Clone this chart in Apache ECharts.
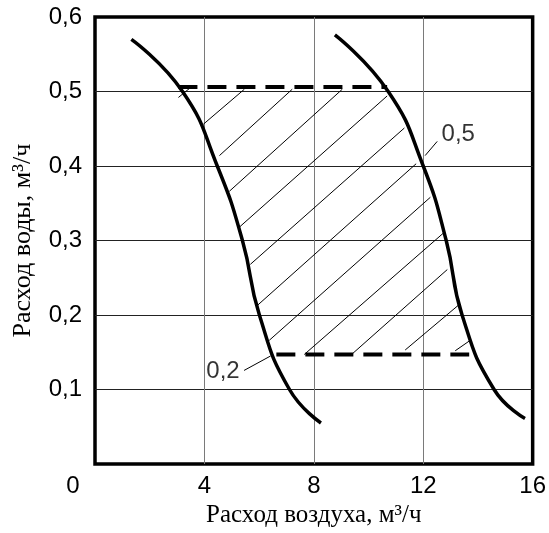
<!DOCTYPE html>
<html>
<head>
<meta charset="utf-8">
<script src="https://cdn.jsdelivr.net/npm/echarts@6/dist/echarts.min.js"></script>
<style>
html, body { margin: 0; padding: 0; background: #fff; }
#chart { width: 549px; height: 533px; }
</style>
</head>
<body>
<div id="chart"></div>
<script>
// x - расход воздуха, м3/ч ; y - расход воды, м3/ч
var curve02 = [[1.33, 0.57], [3.2, 0.5], [4.47, 0.4], [5.39, 0.3], [6.01, 0.2], [7.11, 0.1], [8.26, 0.055]];
var curve05 = [[8.77, 0.576], [10.72, 0.5], [12.0, 0.4], [12.84, 0.3], [13.42, 0.2], [14.59, 0.1], [15.72, 0.061]];

var topLimit = [[3.05, 0.506], [10.68, 0.506]];
var bottomLimit = [[6.63, 0.147], [13.68, 0.147]];

// штриховка области
var hatch = [
    [[3.05, 0.492], [3.45, 0.504]],
    [[3.96, 0.456], [5.46, 0.503]],
    [[4.55, 0.414], [7.21, 0.503]],
    [[4.91, 0.366], [9.04, 0.503]],
    [[5.28, 0.318], [10.68, 0.494]],
    [[5.68, 0.268], [11.31, 0.451]],
    [[5.94, 0.213], [11.74, 0.403]],
    [[6.37, 0.166], [12.26, 0.358]],
    [[7.65, 0.147], [12.77, 0.311]],
    [[9.41, 0.148], [12.88, 0.261]],
    [[11.34, 0.153], [13.28, 0.213]],
    [[13.17, 0.152], [13.68, 0.165]]
];

var leaders = [
    [[12.07, 0.414], [12.51, 0.433]],
    [[5.45, 0.1256], [6.42, 0.145]]
];
var curveNames = ['0,5', '0,2'];
var curveNamePos = [[13.28, 0.442], [4.68, 0.1247]];

var xTicks = [0, 4, 8, 12, 16];
var xTickLabels = ['0', '4', '8', '12', '16'];
var yTicks = [0, 0.1, 0.2, 0.3, 0.4, 0.5, 0.6];
var yTickLabels = ['', '0,1', '0,2', '0,3', '0,4', '0,5', '0,6'];

var tickFont = 'Liberation Sans, Arial, sans-serif';
var nameFont = 'Liberation Serif, Times New Roman, serif';

var myChart = echarts.init(document.getElementById('chart'));

var option = {
    animation: false,
    grid: {
        left: 95, right: 12, top: 17, bottom: 64,
        show: true,
        borderColor: '#000',
        borderWidth: 3.5
    },
    xAxis: {
        type: 'value',
        min: 0, max: 16, interval: 4,
        name: 'Расход воздуха, м³/ч',
        nameLocation: 'middle',
        nameGap: 39,
        nameTextStyle: { fontFamily: nameFont, fontSize: 25, color: '#000' },
        axisLine: { show: false },
        axisTick: { show: false },
        axisLabel: {
            margin: 10,
            fontFamily: tickFont, fontSize: 24, color: '#000',
            formatter: function (v) {
                var s = xTickLabels[xTicks.indexOf(v)];
                return v === 0 ? '{z|' + s + '}' : s;
            },
            rich: {
                z: { fontFamily: tickFont, fontSize: 24, color: '#000', padding: [0, 44, 0, 0] }
            }
        },
        splitLine: { show: true, showMinLine: false, showMaxLine: false, lineStyle: { color: '#7a7a7a', width: 1 } }
    },
    yAxis: {
        type: 'value',
        min: 0, max: 0.6, interval: 0.1,
        name: 'Расход воды, м³/ч',
        nameLocation: 'middle',
        nameGap: 59,
        nameTextStyle: { fontFamily: nameFont, fontSize: 26, color: '#000' },
        axisLine: { show: false },
        axisTick: { show: false },
        axisLabel: {
            margin: 13,
            fontFamily: tickFont, fontSize: 24, color: '#000',
            formatter: function (v) {
                return yTickLabels[yTicks.indexOf(Math.round(v * 10) / 10)];
            }
        },
        splitLine: { show: true, showMinLine: false, showMaxLine: false, lineStyle: { color: '#222', width: 1 } }
    },
    series: [
        {
            type: 'lines',
            coordinateSystem: 'cartesian2d',
            silent: true,
            lineStyle: { color: '#000', width: 1, opacity: 1 },
            data: hatch.concat(leaders).map(function (c) { return { coords: c }; })
        },
        {
            type: 'line',
            data: curve02,
            smooth: 0.5,
            showSymbol: false,
            lineStyle: { color: '#000', width: 3.5 }
        },
        {
            type: 'line',
            data: curve05,
            smooth: 0.5,
            showSymbol: false,
            lineStyle: { color: '#000', width: 3.5 }
        },
        {
            type: 'line',
            data: topLimit,
            showSymbol: false,
            lineStyle: { color: '#000', width: 4, type: [19, 10] }
        },
        {
            type: 'line',
            data: bottomLimit,
            showSymbol: false,
            lineStyle: { color: '#000', width: 4, type: [19, 10] }
        },
        {
            type: 'scatter',
            symbolSize: 0,
            data: curveNames.map(function (n, i) { return { name: n, value: curveNamePos[i] }; }),
            label: {
                show: true,
                position: 'inside',
                formatter: '{b}',
                fontFamily: tickFont, fontSize: 24, color: '#000'
            }
        }
    ]
};

myChart.setOption(option);
</script>
</body>
</html>
